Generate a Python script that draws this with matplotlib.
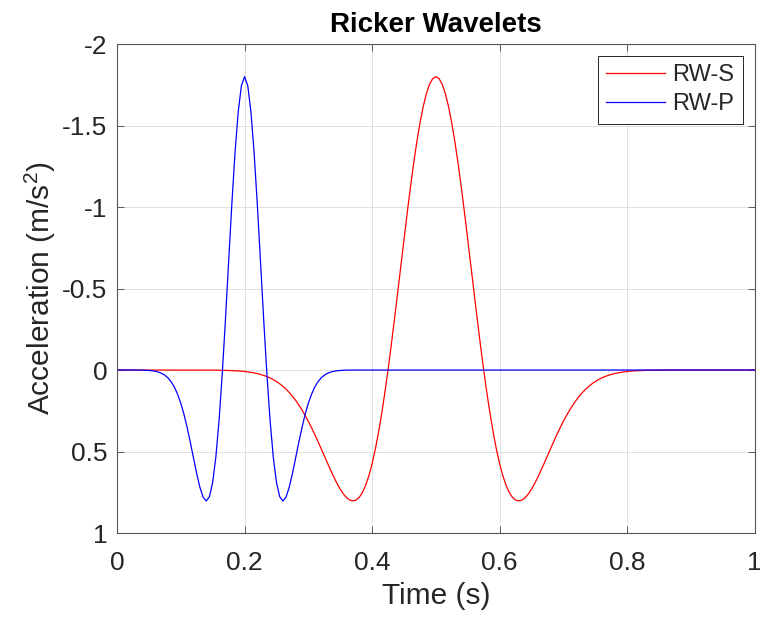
import numpy as np
import matplotlib.pyplot as plt

plt.rcParams['font.family'] = ['Liberation Sans', 'DejaVu Sans']
plt.rcParams['mathtext.fontset'] = 'custom'
plt.rcParams['mathtext.rm'] = 'Liberation Sans'
plt.rcParams['mathtext.it'] = 'Liberation Sans:italic'

# RW-S wavelet, sampled every 0.005 s (flat zero outside 0.13-0.87 s)
s_time = [0.0] + list(np.round(np.arange(0.13, 0.8701, 0.005), 3)) + [1.0]
s_acc = [0.0,
         0.0002, 0.0003, 0.0004, 0.0005, 0.0007, 0.0009, 0.0012, 0.0016, 0.0021, 0.0027,
         0.0035, 0.0045, 0.0057, 0.0072, 0.0091, 0.0114, 0.0143, 0.0178, 0.0220, 0.0271,
         0.0332, 0.0404, 0.0489, 0.0589, 0.0706, 0.0841, 0.0997, 0.1174, 0.1376, 0.1603,
         0.1857, 0.2138, 0.2447, 0.2784, 0.3147, 0.3536, 0.3946, 0.4375, 0.4816, 0.5264,
         0.5713, 0.6151, 0.6572, 0.6961, 0.7311, 0.7608, 0.7833, 0.7981, 0.8033, 0.7979,
         0.7805, 0.7504, 0.7064, 0.6481, 0.5750, 0.4871, 0.3848, 0.2687, 0.1396, -0.0008,
         -0.1508, -0.3085, -0.4712, -0.6365, -0.8013, -0.9627, -1.1177, -1.2631, -1.3960,
         -1.5137, -1.6137, -1.6939, -1.7524, -1.7880,
         -1.8,
         -1.7880, -1.7524, -1.6939, -1.6137, -1.5137,
         -1.3960, -1.2631, -1.1177, -0.9627, -0.8013, -0.6365, -0.4712, -0.3085, -0.1508,
         -0.0008, 0.1396, 0.2687, 0.3848, 0.4871, 0.5750, 0.6481, 0.7064, 0.7504, 0.7805,
         0.7979, 0.8033, 0.7981, 0.7833, 0.7608, 0.7311, 0.6961, 0.6572, 0.6151, 0.5713,
         0.5264, 0.4816, 0.4375, 0.3946, 0.3536, 0.3147, 0.2784, 0.2447, 0.2138, 0.1857,
         0.1603, 0.1376, 0.1174, 0.0997, 0.0841, 0.0706, 0.0589, 0.0489, 0.0404, 0.0332,
         0.0271, 0.0220, 0.0178, 0.0143, 0.0114, 0.0091, 0.0072, 0.0057, 0.0045, 0.0035,
         0.0027, 0.0021, 0.0016, 0.0012, 0.0009, 0.0007, 0.0005, 0.0004, 0.0003, 0.0002,
         0.0]

# RW-P wavelet, sampled every 0.005 s (flat zero outside 0.03-0.37 s)
p_time = [0.0] + list(np.round(np.arange(0.03, 0.3701, 0.005), 3)) + [1.0]
p_acc = [0.0,
         0.0002, 0.0005, 0.0008, 0.0015, 0.0027, 0.0046, 0.0078, 0.0128, 0.0205, 0.0321,
         0.0489, 0.0727, 0.1053, 0.1486, 0.2041, 0.2726, 0.3536, 0.4448, 0.5415, 0.6364,
         0.7201, 0.7801, 0.8033, 0.7764, 0.6885, 0.5329, 0.3089, 0.0234,
         -0.3085, -0.6641, -1.0153, -1.3313, -1.5825, -1.7442,
         -1.8,
         -1.7442, -1.5825, -1.3313, -1.0153, -0.6641, -0.3085,
         0.0234, 0.3089, 0.5329, 0.6885, 0.7764, 0.8033, 0.7801, 0.7201, 0.6364, 0.5415,
         0.4448, 0.3536, 0.2726, 0.2041, 0.1486, 0.1053, 0.0727, 0.0489, 0.0321, 0.0205,
         0.0128, 0.0078, 0.0046, 0.0027, 0.0015, 0.0008, 0.0005, 0.0002,
         0.0]

x_ticks = [0, 0.2, 0.4, 0.6, 0.8, 1]
x_labels = ['0', '0.2', '0.4', '0.6', '0.8', '1']
y_ticks = [-2, -1.5, -1, -0.5, 0, 0.5, 1]
y_labels = ['-2', '-1.5', '-1', '-0.5', '0', '0.5', '1']

fig = plt.figure(figsize=(7.6, 6.21), dpi=100)
ax = fig.add_axes([0.154, 0.1417, 0.839, 0.7874])

ax.plot(s_time, s_acc, color='#ff0000', lw=0.9, label='RW-S')
ax.plot(p_time, p_acc, color='#0000ff', lw=0.9, label='RW-P')

ax.set_xlim(0, 1)
ax.set_ylim(1, -2)
ax.set_xticks(x_ticks)
ax.set_xticklabels(x_labels)
ax.set_yticks(y_ticks)
ax.set_yticklabels(y_labels)

ax.grid(True, color='#e0e0e0', lw=0.7)
ax.set_axisbelow(True)
ax.tick_params(direction='in', top=True, right=True, length=5, width=0.6,
               color='#444444', labelsize=19, labelcolor='#262626')
ax.tick_params(axis='x', pad=13)
ax.tick_params(axis='y', pad=7)
for sp in ax.spines.values():
    sp.set_color('#555555')
    sp.set_linewidth(0.8)

ax.set_xlabel('Time (s)', fontsize=21.5, color='#262626', labelpad=5)
ax.set_ylabel('Acceleration (m/s$^2$)', fontsize=21.5, color='#262626', labelpad=3)
ax.set_title('Ricker Wavelets', fontsize=20, fontweight='bold', pad=9)

leg = ax.legend(loc='upper right', fontsize=17, fancybox=False, framealpha=1,
                edgecolor='#262626', handlelength=2.5, borderaxespad=0.5,
                labelspacing=0.3, handletextpad=0.3, borderpad=0.36)
leg.get_frame().set_linewidth(0.7)
for t in leg.get_texts():
    t.set_color('#262626')

fig.savefig('out.png', dpi=100)
